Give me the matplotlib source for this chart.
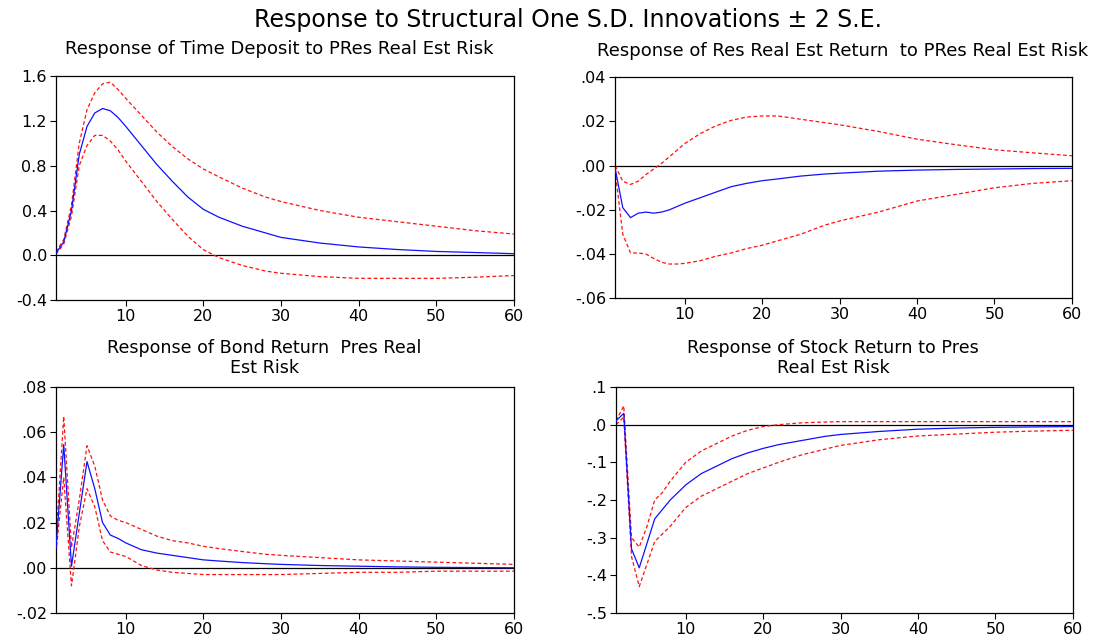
import matplotlib
matplotlib.use("Agg")
import matplotlib.pyplot as plt
from matplotlib.ticker import FixedLocator, FixedFormatter

plt.rcParams['font.family'] = ['DejaVu Sans']

# Horizon (periods) at which the impulse responses are recorded
periods = [1, 2, 3, 4, 5, 6, 7, 8, 9, 10, 12, 14, 16, 18, 20, 22, 25, 28, 30,
           35, 40, 45, 50, 55, 60]

# Time Deposit
dep_resp = [0.02, 0.12, 0.40, 0.90, 1.15, 1.27, 1.31, 1.29, 1.23, 1.15, 0.98, 0.81,
            0.66, 0.52, 0.41, 0.34, 0.26, 0.20, 0.16, 0.11, 0.075, 0.052, 0.035, 0.025, 0.015]
dep_up = [0.03, 0.14, 0.45, 1.00, 1.30, 1.45, 1.53, 1.545, 1.48, 1.40, 1.25, 1.10,
          0.97, 0.86, 0.77, 0.70, 0.60, 0.52, 0.48, 0.40, 0.34, 0.30, 0.26, 0.22, 0.19]
dep_lo = [0.01, 0.10, 0.35, 0.80, 0.98, 1.07, 1.07, 1.02, 0.94, 0.84, 0.66, 0.48,
          0.32, 0.17, 0.05, -0.02, -0.09, -0.14, -0.16, -0.19, -0.205, -0.205, -0.205,
          -0.195, -0.18]

# Res Real Est Return
ret_resp = [-0.001, -0.019, -0.0235, -0.0215, -0.021, -0.0215, -0.021, -0.020, -0.0185,
            -0.017, -0.0145, -0.012, -0.0095, -0.008, -0.0068, -0.006, -0.0047, -0.0038,
            -0.0034, -0.0025, -0.002, -0.0017, -0.0015, -0.0013, -0.0012]
ret_up = [0.0, -0.007, -0.0085, -0.007, -0.004, -0.0015, 0.001, 0.004, 0.007, 0.010,
          0.0145, 0.018, 0.0205, 0.022, 0.0225, 0.0225, 0.021, 0.0195, 0.0185, 0.0155,
          0.012, 0.0095, 0.0072, 0.0058, 0.0045]
ret_lo = [-0.002, -0.031, -0.0395, -0.0395, -0.040, -0.042, -0.0437, -0.0445, -0.0445,
          -0.0442, -0.043, -0.041, -0.0395, -0.0375, -0.036, -0.034, -0.031, -0.027,
          -0.025, -0.021, -0.016, -0.013, -0.010, -0.008, -0.0068]

# Bond Return
bond_resp = [0.0088, 0.0545, 0.0007, 0.024, 0.047, 0.035, 0.020, 0.0145, 0.013, 0.011,
             0.008, 0.0065, 0.0055, 0.0045, 0.0035, 0.003, 0.0023, 0.0018, 0.0015,
             0.001, 0.0007, 0.0004, 0.0002, 0.0001, 0.0]
bond_up = [0.012, 0.067, 0.009, 0.030, 0.054, 0.045, 0.030, 0.023, 0.021, 0.020, 0.017,
           0.014, 0.012, 0.011, 0.0095, 0.0085, 0.0072, 0.006, 0.0055, 0.0045, 0.0035,
           0.003, 0.0025, 0.002, 0.0015]
bond_lo = [0.007, 0.040, -0.008, 0.018, 0.035, 0.027, 0.012, 0.007, 0.006, 0.005, 0.001,
           -0.001, -0.002, -0.0025, -0.003, -0.003, -0.003, -0.003, -0.003, -0.0025,
           -0.002, -0.002, -0.0015, -0.0015, -0.0015]

# Stock Return
stk_resp = [0.01, 0.03, -0.33, -0.38, -0.315, -0.25, -0.225, -0.20, -0.18, -0.16,
            -0.13, -0.11, -0.09, -0.075, -0.063, -0.053, -0.042, -0.031, -0.026, -0.018,
            -0.012, -0.009, -0.007, -0.006, -0.005]
stk_up = [0.01, 0.05, -0.30, -0.325, -0.27, -0.20, -0.18, -0.15, -0.125, -0.10, -0.07,
          -0.05, -0.03, -0.015, -0.005, 0.0, 0.005, 0.007, 0.008, 0.008, 0.008, 0.008,
          0.008, 0.008, 0.008]
stk_lo = [0.0, 0.02, -0.35, -0.43, -0.37, -0.31, -0.29, -0.27, -0.245, -0.22, -0.19,
          -0.17, -0.15, -0.13, -0.115, -0.10, -0.08, -0.065, -0.055, -0.04, -0.03, -0.025,
          -0.02, -0.017, -0.015]

titles = ["Response of Time Deposit to PRes Real Est Risk",
          "Response of Res Real Est Return  to PRes Real Est Risk",
          "Response of Bond Return  Pres Real\nEst Risk",
          "Response of Stock Return to Pres\nReal Est Risk"]

ytick_vals = [[-0.4, 0.0, 0.4, 0.8, 1.2, 1.6],
              [-0.06, -0.04, -0.02, 0.0, 0.02, 0.04],
              [-0.02, 0.0, 0.02, 0.04, 0.06, 0.08],
              [-0.5, -0.4, -0.3, -0.2, -0.1, 0.0, 0.1]]
ytick_text = [["-0.4", "0.0", "0.4", "0.8", "1.2", "1.6"],
              ["-.06", "-.04", "-.02", ".00", ".02", ".04"],
              ["-.02", ".00", ".02", ".04", ".06", ".08"],
              ["-.5", "-.4", "-.3", "-.2", "-.1", ".0", ".1"]]
xtick_vals = [10, 20, 30, 40, 50, 60]

series = [(dep_resp, dep_up, dep_lo), (ret_resp, ret_up, ret_lo),
          (bond_resp, bond_up, bond_lo), (stk_resp, stk_up, stk_lo)]

fig = plt.figure(figsize=(10.93, 6.36), dpi=100)
fig.patch.set_facecolor("white")

boxes = [[0.0512, 0.528, 0.419, 0.3525],
         [0.5627, 0.531, 0.418, 0.3475],
         [0.0512, 0.0362, 0.419, 0.3553],
         [0.5636, 0.0362, 0.418, 0.3553]]
title_y = [1.085, 1.085, 1.048, 1.048]
title_x = [0.487, 0.499, 0.455, 0.475]
title_size = [13, 13, 12.6, 12.6]

for i in range(4):
    ax = fig.add_axes(boxes[i])
    resp, up, lo = series[i]
    ax.axhline(0, color="black", lw=0.9, zorder=1)
    ax.plot(periods, up, color="#ff1010", lw=0.9, ls=(0, (3, 2)), zorder=2)
    ax.plot(periods, lo, color="#ff1010", lw=0.9, ls=(0, (3, 2)), zorder=2)
    ax.plot(periods, resp, color="#1010ff", lw=0.9, zorder=3)
    ax.set_xlim(1, 60)
    ax.set_ylim(ytick_vals[i][0], ytick_vals[i][-1])
    ax.xaxis.set_major_locator(FixedLocator(xtick_vals))
    ax.yaxis.set_major_locator(FixedLocator(ytick_vals[i]))
    ax.yaxis.set_major_formatter(FixedFormatter(ytick_text[i]))
    ax.tick_params(axis="both", direction="out", length=4, width=0.8,
                   labelsize=11.5, colors="black", pad=2.5)
    for sp in ax.spines.values():
        sp.set_linewidth(0.9)
    t = ax.set_title(titles[i], fontsize=title_size[i], y=title_y[i],
                     linespacing=1.15, pad=2)
    t.set_x(title_x[i])

fig.suptitle("Response to Structural One S.D. Innovations \u00b1 2 S.E.",
             fontsize=17, x=0.52, y=0.988)

fig.savefig("out.png", dpi=100)
